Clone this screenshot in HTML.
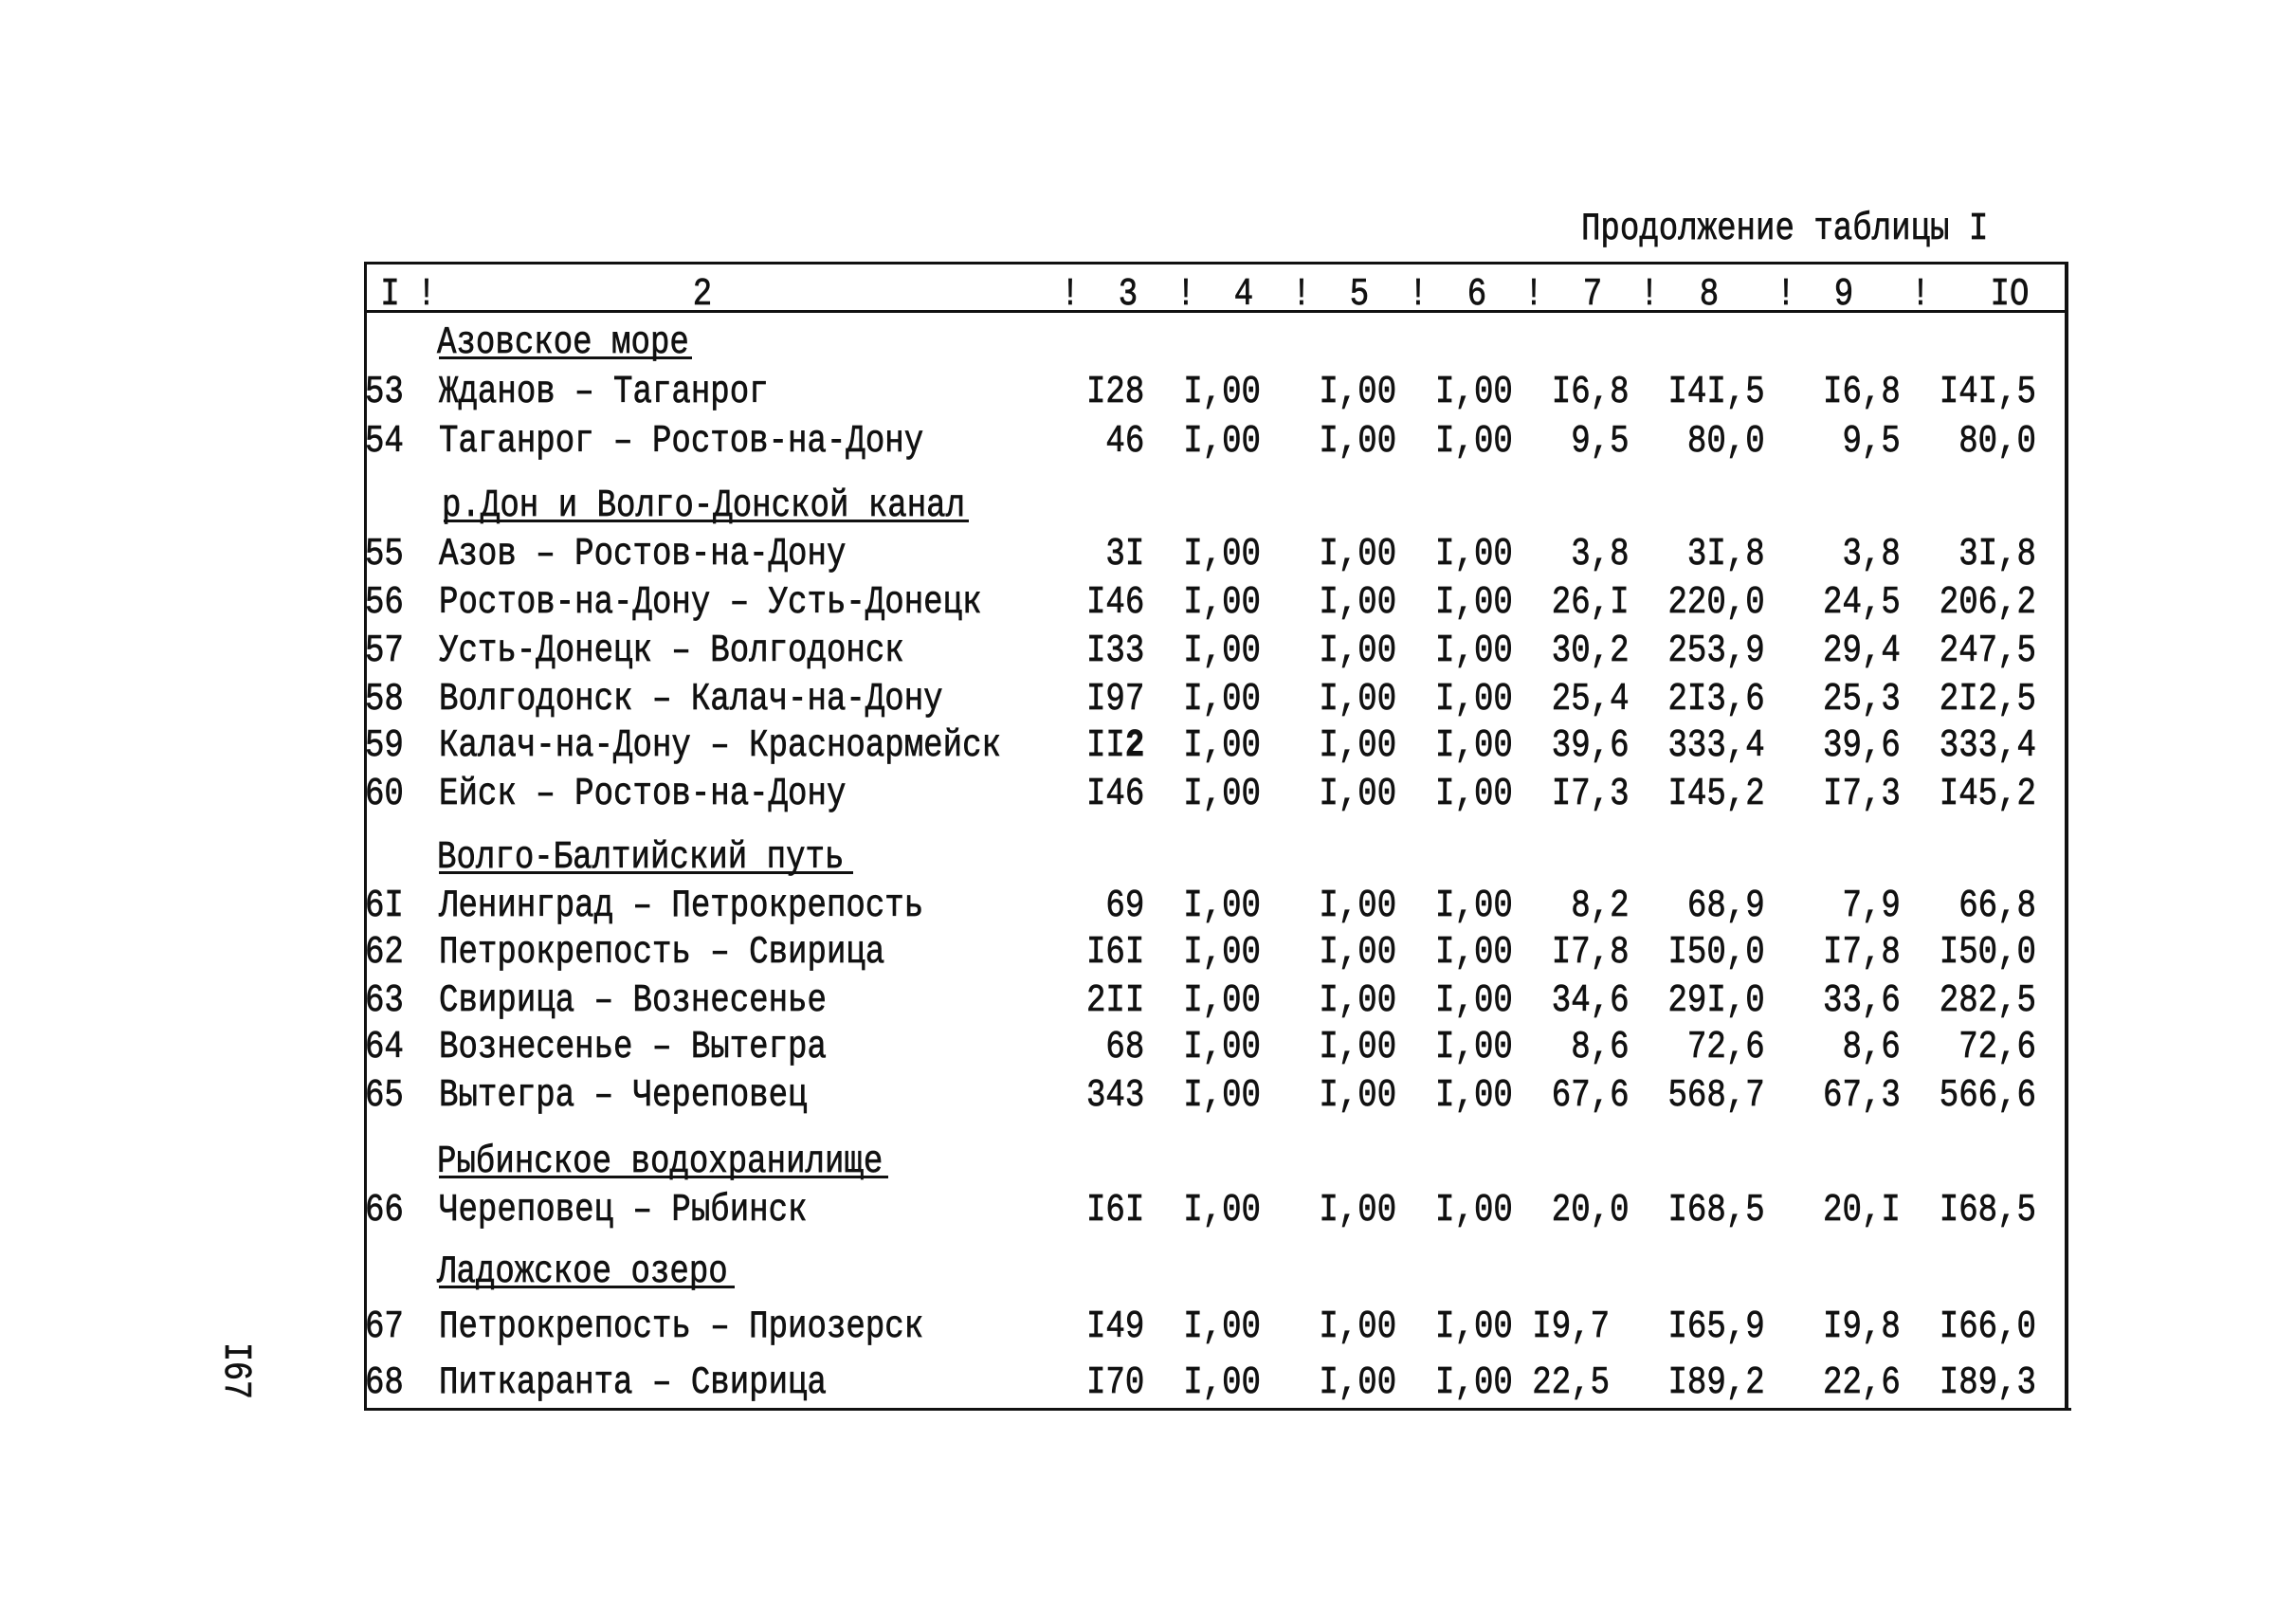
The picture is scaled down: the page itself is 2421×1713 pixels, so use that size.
<!DOCTYPE html>
<html>
<head>
<meta charset="utf-8">
<style>
  html, body { margin: 0; padding: 0; background: #fff; }
  svg { display: block; }
  text { font-family: "Liberation Mono", "DejaVu Sans Mono", monospace; font-size: 41px; fill: #111; stroke: #111; stroke-width: 0.7px; }
</style>
</head>
<body>
<svg width="2421" height="1713" viewBox="0 0 2421 1713" xmlns="http://www.w3.org/2000/svg">
  <rect x="0" y="0" width="2421" height="1713" fill="#fff"/>

  <!-- table frame -->
  <rect x="384" y="276" width="1798" height="3" fill="#111"/>
  <rect x="384" y="327" width="1798" height="3" fill="#111"/>
  <rect x="384" y="276" width="3" height="1212" fill="#111"/>
  <rect x="2178" y="276" width="4" height="1212" fill="#111"/>
  <rect x="384" y="1485" width="1801" height="3" fill="#111"/>

  <!-- heading underlines -->
  <rect x="463" y="376" width="267" height="3" fill="#111"/>
  <rect x="468" y="548" width="554" height="3" fill="#111"/>
  <rect x="463" y="919" width="437" height="3" fill="#111"/>
  <rect x="463" y="1240" width="474" height="3" fill="#111"/>
  <rect x="463" y="1356" width="312" height="3" fill="#111"/>

  <!-- page number -->
  <text transform="translate(238,1416) rotate(90)" textLength="60" lengthAdjust="spacingAndGlyphs">I67</text>

  <g transform="scale(0.8313,1)">
    <!-- title -->
    <text x="2006.5" y="252">Продолжение таблицы I</text>

    <!-- header -->
    <g text-anchor="middle">
      <text x="495.0" y="321">I</text>
      <text x="541.3" y="321">!</text>
      <text x="891.4" y="321">2</text>
      <text x="1358.1" y="321">!</text>
      <text x="1431.5" y="321">3</text>
      <text x="1504.9" y="321">!</text>
      <text x="1578.2" y="321">4</text>
      <text x="1651.6" y="321">!</text>
      <text x="1725.0" y="321">5</text>
      <text x="1799.6" y="321">!</text>
      <text x="1874.2" y="321">6</text>
      <text x="1946.3" y="321">!</text>
      <text x="2020.9" y="321">7</text>
      <text x="2093.1" y="321">!</text>
      <text x="2168.9" y="321">8</text>
      <text x="2266.3" y="321">!</text>
      <text x="2339.7" y="321">9</text>
      <text x="2437.1" y="321">!</text>
      <text x="2550.2" y="321">IO</text>
    </g>

    <!-- section headings -->
    <text x="554.6" y="372">Азовское море</text>
    <text x="560.6" y="544">р.Дон и Волго-Донской канал</text>
    <text x="554.6" y="915">Волго-Балтийский путь</text>
    <text x="554.6" y="1236">Рыбинское водохранилище</text>
    <text x="554.6" y="1352">Ладожское озеро</text>

    <!-- row numbers -->
    <text x="463.1" y="424">53</text>
    <text x="463.1" y="476">54</text>
    <text x="463.1" y="595">55</text>
    <text x="463.1" y="646">56</text>
    <text x="463.1" y="697">57</text>
    <text x="463.1" y="748">58</text>
    <text x="463.1" y="797">59</text>
    <text x="463.1" y="848">60</text>
    <text x="463.1" y="966">6I</text>
    <text x="463.1" y="1015">62</text>
    <text x="463.1" y="1066">63</text>
    <text x="463.1" y="1115">64</text>
    <text x="463.1" y="1166">65</text>
    <text x="463.1" y="1287">66</text>
    <text x="463.1" y="1410">67</text>
    <text x="463.1" y="1469">68</text>

    <!-- names -->
    <text x="557.0" y="424">Жданов – Таганрог</text>
    <text x="557.0" y="476">Таганрог – Ростов-на-Дону</text>
    <text x="557.0" y="595">Азов – Ростов-на-Дону</text>
    <text x="557.0" y="646">Ростов-на-Дону – Усть-Донецк</text>
    <text x="557.0" y="697">Усть-Донецк – Волгодонск</text>
    <text x="557.0" y="748">Волгодонск – Калач-на-Дону</text>
    <text x="557.0" y="797">Калач-на-Дону – Красноармейск</text>
    <text x="557.0" y="848">Ейск – Ростов-на-Дону</text>
    <text x="557.0" y="966">Ленинград – Петрокрепость</text>
    <text x="557.0" y="1015">Петрокрепость – Свирица</text>
    <text x="557.0" y="1066">Свирица – Вознесенье</text>
    <text x="557.0" y="1115">Вознесенье – Вытегра</text>
    <text x="557.0" y="1166">Вытегра – Череповец</text>
    <text x="557.0" y="1287">Череповец – Рыбинск</text>
    <text x="557.0" y="1410">Петрокрепость – Приозерск</text>
    <text x="557.0" y="1469">Питкаранта – Свирица</text>

    <!-- data columns (right aligned) -->
    <g text-anchor="end">
      <!-- col 3 -->
      <text x="1452.3" y="424">I28</text>
      <text x="1452.3" y="476">46</text>
      <text x="1452.3" y="595">3I</text>
      <text x="1452.3" y="646">I46</text>
      <text x="1452.3" y="697">I33</text>
      <text x="1452.3" y="748">I97</text>
      <text x="1452.3" y="797">II<tspan font-weight="bold">2</tspan></text>
      <text x="1452.3" y="848">I46</text>
      <text x="1452.3" y="966">69</text>
      <text x="1452.3" y="1015">I6I</text>
      <text x="1452.3" y="1066">2II</text>
      <text x="1452.3" y="1115">68</text>
      <text x="1452.3" y="1166">343</text>
      <text x="1452.3" y="1287">I6I</text>
      <text x="1452.3" y="1410">I49</text>
      <text x="1452.3" y="1469">I70</text>

      <!-- col 4 -->
      <text x="1599.9" y="424">I,00</text>
      <text x="1599.9" y="476">I,00</text>
      <text x="1599.9" y="595">I,00</text>
      <text x="1599.9" y="646">I,00</text>
      <text x="1599.9" y="697">I,00</text>
      <text x="1599.9" y="748">I,00</text>
      <text x="1599.9" y="797">I,00</text>
      <text x="1599.9" y="848">I,00</text>
      <text x="1599.9" y="966">I,00</text>
      <text x="1599.9" y="1015">I,00</text>
      <text x="1599.9" y="1066">I,00</text>
      <text x="1599.9" y="1115">I,00</text>
      <text x="1599.9" y="1166">I,00</text>
      <text x="1599.9" y="1287">I,00</text>
      <text x="1599.9" y="1410">I,00</text>
      <text x="1599.9" y="1469">I,00</text>

      <!-- col 5 -->
      <text x="1772.1" y="424">I,00</text>
      <text x="1772.1" y="476">I,00</text>
      <text x="1772.1" y="595">I,00</text>
      <text x="1772.1" y="646">I,00</text>
      <text x="1772.1" y="697">I,00</text>
      <text x="1772.1" y="748">I,00</text>
      <text x="1772.1" y="797">I,00</text>
      <text x="1772.1" y="848">I,00</text>
      <text x="1772.1" y="966">I,00</text>
      <text x="1772.1" y="1015">I,00</text>
      <text x="1772.1" y="1066">I,00</text>
      <text x="1772.1" y="1115">I,00</text>
      <text x="1772.1" y="1166">I,00</text>
      <text x="1772.1" y="1287">I,00</text>
      <text x="1772.1" y="1410">I,00</text>
      <text x="1772.1" y="1469">I,00</text>

      <!-- col 6 -->
      <text x="1919.7" y="424">I,00</text>
      <text x="1919.7" y="476">I,00</text>
      <text x="1919.7" y="595">I,00</text>
      <text x="1919.7" y="646">I,00</text>
      <text x="1919.7" y="697">I,00</text>
      <text x="1919.7" y="748">I,00</text>
      <text x="1919.7" y="797">I,00</text>
      <text x="1919.7" y="848">I,00</text>
      <text x="1919.7" y="966">I,00</text>
      <text x="1919.7" y="1015">I,00</text>
      <text x="1919.7" y="1066">I,00</text>
      <text x="1919.7" y="1115">I,00</text>
      <text x="1919.7" y="1166">I,00</text>
      <text x="1919.7" y="1287">I,00</text>
      <text x="1919.7" y="1410">I,00</text>
      <text x="1919.7" y="1469">I,00</text>

      <!-- col 7 -->
      <text x="2067.3" y="424">I6,8</text>
      <text x="2067.3" y="476">9,5</text>
      <text x="2067.3" y="595">3,8</text>
      <text x="2067.3" y="646">26,I</text>
      <text x="2067.3" y="697">30,2</text>
      <text x="2067.3" y="748">25,4</text>
      <text x="2067.3" y="797">39,6</text>
      <text x="2067.3" y="848">I7,3</text>
      <text x="2067.3" y="966">8,2</text>
      <text x="2067.3" y="1015">I7,8</text>
      <text x="2067.3" y="1066">34,6</text>
      <text x="2067.3" y="1115">8,6</text>
      <text x="2067.3" y="1166">67,6</text>
      <text x="2067.3" y="1287">20,0</text>
      <text x="2042.7" y="1410">I9,7</text>
      <text x="2042.7" y="1469">22,5</text>

      <!-- col 8 -->
      <text x="2239.5" y="424">I4I,5</text>
      <text x="2239.5" y="476">80,0</text>
      <text x="2239.5" y="595">3I,8</text>
      <text x="2239.5" y="646">220,0</text>
      <text x="2239.5" y="697">253,9</text>
      <text x="2239.5" y="748">2I3,6</text>
      <text x="2239.5" y="797">333,4</text>
      <text x="2239.5" y="848">I45,2</text>
      <text x="2239.5" y="966">68,9</text>
      <text x="2239.5" y="1015">I50,0</text>
      <text x="2239.5" y="1066">29I,0</text>
      <text x="2239.5" y="1115">72,6</text>
      <text x="2239.5" y="1166">568,7</text>
      <text x="2239.5" y="1287">I68,5</text>
      <text x="2239.5" y="1410">I65,9</text>
      <text x="2239.5" y="1469">I89,2</text>

      <!-- col 9 -->
      <text x="2411.7" y="424">I6,8</text>
      <text x="2411.7" y="476">9,5</text>
      <text x="2411.7" y="595">3,8</text>
      <text x="2411.7" y="646">24,5</text>
      <text x="2411.7" y="697">29,4</text>
      <text x="2411.7" y="748">25,3</text>
      <text x="2411.7" y="797">39,6</text>
      <text x="2411.7" y="848">I7,3</text>
      <text x="2411.7" y="966">7,9</text>
      <text x="2411.7" y="1015">I7,8</text>
      <text x="2411.7" y="1066">33,6</text>
      <text x="2411.7" y="1115">8,6</text>
      <text x="2411.7" y="1166">67,3</text>
      <text x="2411.7" y="1287">20,I</text>
      <text x="2411.7" y="1410">I9,8</text>
      <text x="2411.7" y="1469">22,6</text>

      <!-- col 10 -->
      <text x="2583.9" y="424">I4I,5</text>
      <text x="2583.9" y="476">80,0</text>
      <text x="2583.9" y="595">3I,8</text>
      <text x="2583.9" y="646">206,2</text>
      <text x="2583.9" y="697">247,5</text>
      <text x="2583.9" y="748">2I2,5</text>
      <text x="2583.9" y="797">333,4</text>
      <text x="2583.9" y="848">I45,2</text>
      <text x="2583.9" y="966">66,8</text>
      <text x="2583.9" y="1015">I50,0</text>
      <text x="2583.9" y="1066">282,5</text>
      <text x="2583.9" y="1115">72,6</text>
      <text x="2583.9" y="1166">566,6</text>
      <text x="2583.9" y="1287">I68,5</text>
      <text x="2583.9" y="1410">I66,0</text>
      <text x="2583.9" y="1469">I89,3</text>
    </g>
  </g>
</svg>
</body>
</html>
